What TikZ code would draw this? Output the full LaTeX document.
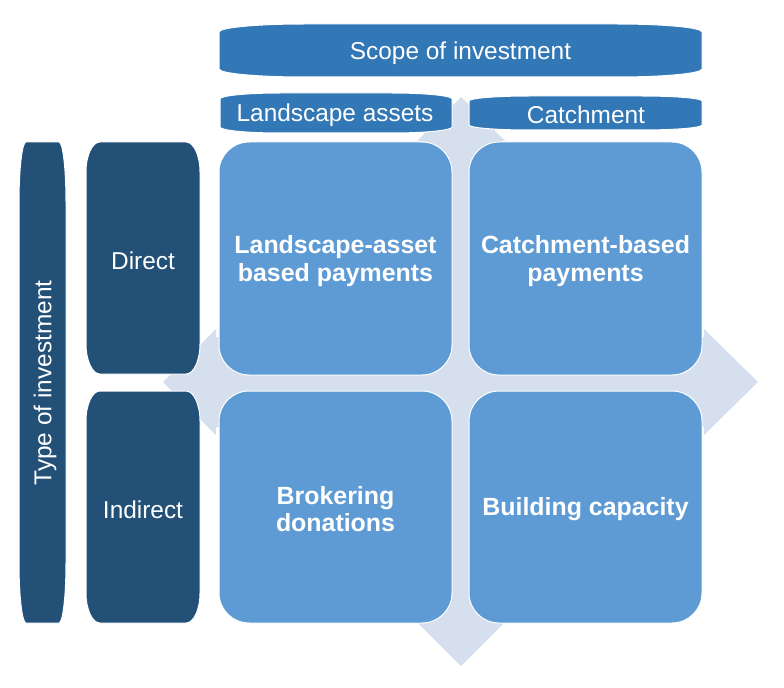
\documentclass[tikz,border=0pt]{standalone}
\usepackage{fontspec}
\setmainfont{Liberation Sans}
\definecolor{crossbg}{HTML}{D5DFEE}
\definecolor{lightbox}{HTML}{5E9BD4}
\definecolor{midbar}{HTML}{3277B6}
\definecolor{darkbox}{HTML}{225077}
\newcommand\eshape[7]{\path[#1] (#2+#6,#3) -- (#4-#6,#3) arc[start angle=-90,end angle=0,x radius=#6,y radius=#7] -- (#4,#5-#7) arc[start angle=0,end angle=90,x radius=#6,y radius=#7] -- (#2+#6,#5) arc[start angle=90,end angle=180,x radius=#6,y radius=#7] -- (#2,#3+#7) arc[start angle=180,end angle=270,x radius=#6,y radius=#7] -- cycle;}
\tikzset{
  cellbox/.style={fill=lightbox,draw=white,line width=1bp},
  barbox/.style={fill=midbar,draw=white,line width=1bp},
  sidebox/.style={fill=darkbox,draw=white,line width=1bp},
  lbl/.style={text=white,font=\fontsize{24.5}{27}\selectfont,align=center,inner sep=0pt},
  blbl/.style={text=white,font=\fontsize{25}{27.5}\selectfont\bfseries,align=center,inner sep=0pt}
}
\begin{document}
\begin{tikzpicture}[x=1bp,y=-1bp]
\useasboundingbox (0,0) rectangle (784,688);
% background four-way arrow
\fill[crossbg] (461,97) -- (505,141) -- (501,141) -- (501,337) -- (704,337) -- (704,329) -- (758,382) -- (704,435) -- (704,427) -- (501,427) -- (501,622) -- (505,622) -- (461,666) -- (417,622) -- (421,622) -- (421,427) -- (216,427) -- (216,435) -- (163,382) -- (216,329) -- (216,337) -- (421,337) -- (421,141) -- (417,141) -- cycle;
% top bars
\eshape{barbox}{219}{24}{702}{77}{85}{8}
\eshape{barbox}{220}{93}{452}{133}{60}{6}
\eshape{barbox}{469}{96}{702}{130}{60}{5}
% left bars
\eshape{sidebox}{19}{142}{66}{623}{7}{60}
\eshape{sidebox}{86}{142}{200}{374}{14}{30}
\eshape{sidebox}{86}{391}{200}{623}{14}{30}
% cells
\eshape{cellbox}{219}{142}{452}{375}{30}{30}
\eshape{cellbox}{469}{142}{702}{375}{30}{30}
\eshape{cellbox}{219}{391}{452}{623}{30}{30}
\eshape{cellbox}{469}{391}{702}{623}{30}{30}
% labels
\node[lbl] (scope) at (460.5,53) {Scope of investment};
\node[lbl] (land) at (335,115) {Landscape assets};
\node[lbl] (catch) at (586,115) {Catchment};
\node[lbl,rotate=90] (type) at (45,383) {Type of investment};
\node[lbl] (direct) at (143,261) {Direct};
\node[lbl] (indirect) at (143,510) {Indirect};
\node[blbl] (c1) at (335.5,261) {Landscape-asset\\based payments};
\node[blbl] (c2) at (585.5,261) {Catchment-based\\payments};
\node[blbl] (c3) at (335.5,509) {Brokering\\donations};
\node[blbl] (c4) at (585.5,509) {Building capacity};
\end{tikzpicture}
\end{document}
